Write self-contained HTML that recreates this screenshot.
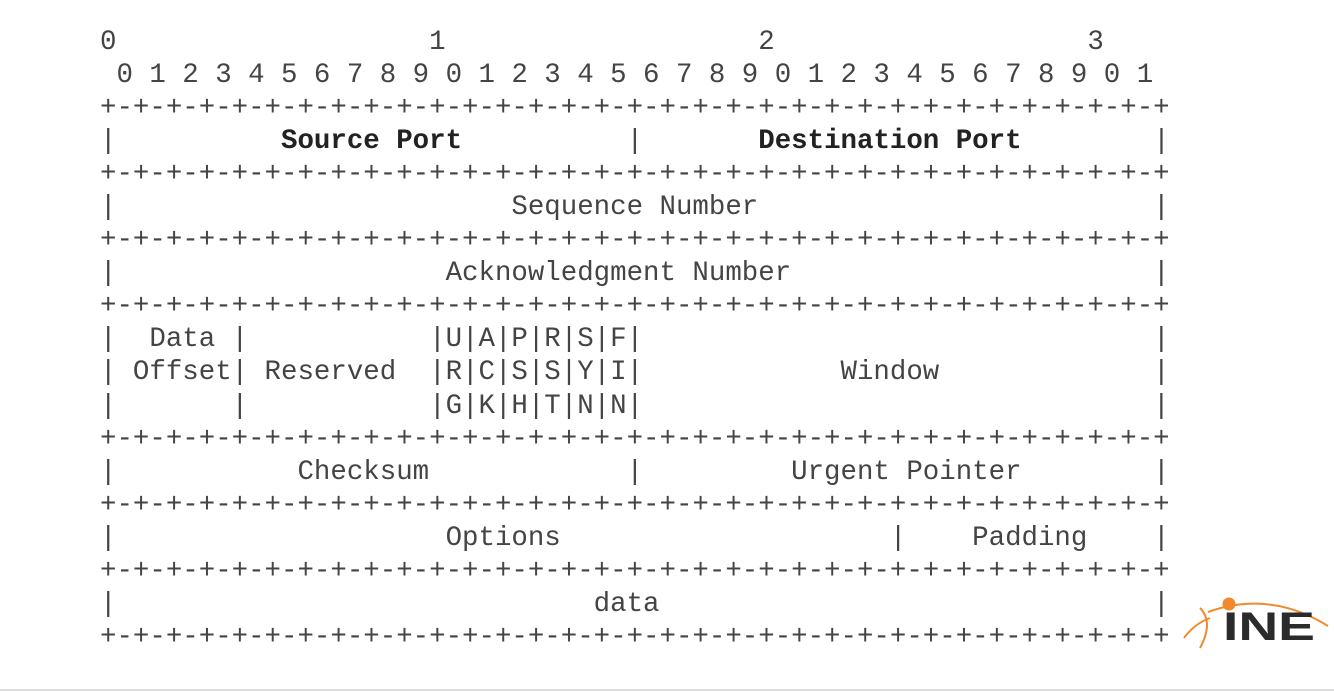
<!DOCTYPE html>
<html><head><meta charset="utf-8"><style>
html,body{margin:0;padding:0;background:#fff;width:1334px;height:691px;overflow:hidden;position:relative}
pre{position:absolute;left:100px;top:26px;margin:0;font-family:"Liberation Mono",monospace;font-size:27.43px;line-height:33.05px;color:#444;letter-spacing:0}
b{color:#222}
.hr{position:absolute;left:0;top:689px;width:1334px;height:2px;background:#ddd}
svg{position:absolute;left:1180px;top:592px}
</style></head><body>
<pre>0                   1                   2                   3
 0 1 2 3 4 5 6 7 8 9 0 1 2 3 4 5 6 7 8 9 0 1 2 3 4 5 6 7 8 9 0 1
+-+-+-+-+-+-+-+-+-+-+-+-+-+-+-+-+-+-+-+-+-+-+-+-+-+-+-+-+-+-+-+-+
|          <b>Source Port</b>          |       <b>Destination Port</b>        |
+-+-+-+-+-+-+-+-+-+-+-+-+-+-+-+-+-+-+-+-+-+-+-+-+-+-+-+-+-+-+-+-+
|                        Sequence Number                        |
+-+-+-+-+-+-+-+-+-+-+-+-+-+-+-+-+-+-+-+-+-+-+-+-+-+-+-+-+-+-+-+-+
|                    Acknowledgment Number                      |
+-+-+-+-+-+-+-+-+-+-+-+-+-+-+-+-+-+-+-+-+-+-+-+-+-+-+-+-+-+-+-+-+
|  Data |           |U|A|P|R|S|F|                               |
| Offset| Reserved  |R|C|S|S|Y|I|            Window             |
|       |           |G|K|H|T|N|N|                               |
+-+-+-+-+-+-+-+-+-+-+-+-+-+-+-+-+-+-+-+-+-+-+-+-+-+-+-+-+-+-+-+-+
|           Checksum            |         Urgent Pointer        |
+-+-+-+-+-+-+-+-+-+-+-+-+-+-+-+-+-+-+-+-+-+-+-+-+-+-+-+-+-+-+-+-+
|                    Options                    |    Padding    |
+-+-+-+-+-+-+-+-+-+-+-+-+-+-+-+-+-+-+-+-+-+-+-+-+-+-+-+-+-+-+-+-+
|                             data                              |
+-+-+-+-+-+-+-+-+-+-+-+-+-+-+-+-+-+-+-+-+-+-+-+-+-+-+-+-+-+-+-+-+</pre>
<svg width="154" height="62" viewBox="0 0 154 62">
<path d="M28 20 Q90 -2 148 34" fill="none" stroke="#f08a2c" stroke-width="2"/>
<path d="M20 16 Q34 30 20 56" fill="none" stroke="#f08a2c" stroke-width="2"/>
<path d="M4 46 Q14 32 30 26" fill="none" stroke="#f08a2c" stroke-width="2"/>
<circle cx="49" cy="12" r="6.5" fill="#f08a2c"/>
<text x="43" y="48" font-family="Liberation Sans, sans-serif" font-weight="bold" font-size="40" fill="#2b2b2b" textLength="92" lengthAdjust="spacingAndGlyphs">INE</text>
<rect x="43" y="2" width="0" height="0"/>
</svg>
<div class="hr"></div>
</body></html>
